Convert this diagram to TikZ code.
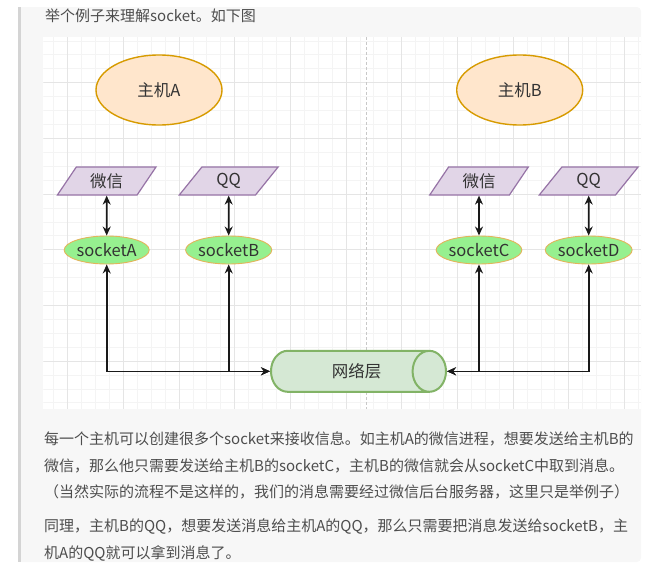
\documentclass[tikz,border=0pt]{standalone}
\usepackage{fontspec}
\newfontfamily\cjk{Noto Sans CJK SC}
\usepackage{tikz}
\usetikzlibrary{arrows.meta, calc, shapes.geometric}
\definecolor{hostfill}{HTML}{FFE6CC}
\definecolor{hostline}{HTML}{D79B00}
\definecolor{appfill}{HTML}{E1D5E7}
\definecolor{appline}{HTML}{9673A6}
\definecolor{sockfill}{HTML}{96F08F}
\definecolor{sockline}{HTML}{E3B45A}
\definecolor{netfill}{HTML}{D5E8D4}
\definecolor{netline}{HTML}{82B366}
\definecolor{paratxt}{HTML}{4D4D4D}
\definecolor{labeltxt}{HTML}{333333}
\definecolor{boxbg}{HTML}{F7F7F7}
\definecolor{boxbar}{HTML}{D4D4D4}
\definecolor{gridmin}{HTML}{F4F4F4}
\definecolor{gridmaj}{HTML}{E5E5E5}
\definecolor{pageline}{HTML}{C8C8C8}

\begin{document}
\begin{tikzpicture}[x=1pt,y=-1pt,>={Stealth[length=9pt,width=8pt]},
  labelfont/.style={font=\cjk\fontsize{16.5}{18}\selectfont,text=labeltxt},
  host/.style={ellipse,draw=hostline,fill=hostfill,line width=1.4pt,
    minimum width=126pt,minimum height=70pt,inner sep=0pt,labelfont},
  app/.style={trapezium,trapezium left angle=56,trapezium right angle=124,
    trapezium stretches=true,draw=appline,fill=appfill,line width=1.2pt,
    minimum width=99pt,minimum height=28pt,inner sep=0pt,labelfont},
  sock/.style={ellipse,draw=sockline,fill=sockfill,line width=0.9pt,
    minimum height=28pt,inner sep=0pt,labelfont},
  net/.style={cylinder,shape border rotate=0,aspect=2.15,draw=netline,
    fill=netfill,line width=2pt,minimum width=41pt,minimum height=175pt,
    inner sep=0pt,labelfont},
  link/.style={draw=black!90,line width=1.6pt},
  para/.style={anchor=west,text=paratxt,font=\cjk\fontsize{15}{18}\selectfont,
    inner sep=0pt}]

\useasboundingbox (0,0) rectangle (662,565);

% ---- riquadro grigio ----
\fill[boxbg,rounded corners=4pt] (18,7) rectangle (641,562);
\fill[boxbar] (18,7) rectangle (21,562);

% ---- area del disegno con griglia ----
\fill[white] (43.3,37.3) rectangle (641,408.5);
\begin{scope}
  \clip (43.3,37.3) rectangle (641,408.5);
  \foreach \i in {-6,...,37}
    \draw[gridmin,line width=0.8pt] ({123.3+13.92*\i},37.3) -- ++(0,371.2);
  \foreach \j in {-3,...,23}
    \draw[gridmin,line width=0.8pt] (43.3,{82.7+13.92*\j}) -- ++(597.7,0);
  \foreach \i in {-1,...,9}
    \draw[gridmaj,line width=0.8pt] ({123.3+55.68*\i},37.3) -- ++(0,371.2);
  \foreach \j in {0,...,5}
    \draw[gridmaj,line width=0.8pt] (43.3,{82.7+55.68*\j}) -- ++(597.7,0);
\end{scope}
\draw[pageline,line width=0.8pt,dash pattern=on 3pt off 2pt] (366,37.3) -- (366,408.5);

% ---- host ----
\node[host] (hostA) at (159,90) {主机A};
\node[host] (hostB) at (519.7,90) {主机B};

% ---- applicazioni ----
\node[app] (wxA) at (106.7,181) {微信};
\node[app] (qqA) at (228.7,181) {QQ};
\node[app] (wxB) at (479,181) {微信};
\node[app] (qqB) at (588.7,181) {QQ};

% ---- socket ----
\node[sock,minimum width=78pt] (sockA) at (106.7,250) {socketA};
\node[sock,minimum width=70pt] (sockB) at (228.7,250) {socketB};
\node[sock,minimum width=78pt] (sockC) at (479,250) {socketC};
\node[sock,minimum width=74pt] (sockD) at (588.7,250) {socketD};

% ---- rete ----
\node[net,anchor=west] (netL) at (270,371.3) {\hspace*{14pt}网络层};

% ---- collegamenti ----
\draw[link,<->] (wxA) -- (sockA);
\draw[link,<->] (qqA) -- (sockB);
\draw[link,<->] (wxB) -- (sockC);
\draw[link,<->] (qqB) -- (sockD);

\draw[link,<->] (sockA) |- (netL.west);
\draw[link,<->] (sockB) |- (netL.west);
\draw[link,<->] (sockC) |- (netL.east);
\draw[link,<->] (sockD) |- (netL.east);

% ---- testo ----
\node[para] (intro) at (45,16) {举个例子来理解socket。如下图};
\node[para] (lineA) at (44,439) {每一个主机可以创建很多个socket来接收信息。如主机A的微信进程，想要发送给主机B的};
\node[para] (lineB) at (44,465.5) {微信，那么他只需要发送给主机B的socketC，主机B的微信就会从socketC中取到消息。};
\node[para] (lineC) at (44,492) {（当然实际的流程不是这样的，我们的消息需要经过微信后台服务器，这里只是举例子）};
\node[para] (lineD) at (44,527) {同理，主机B的QQ，想要发送消息给主机A的QQ，那么只需要把消息发送给socketB，主};
\node[para] (lineE) at (44,553) {机A的QQ就可以拿到消息了。};

\end{tikzpicture}
\end{document}
